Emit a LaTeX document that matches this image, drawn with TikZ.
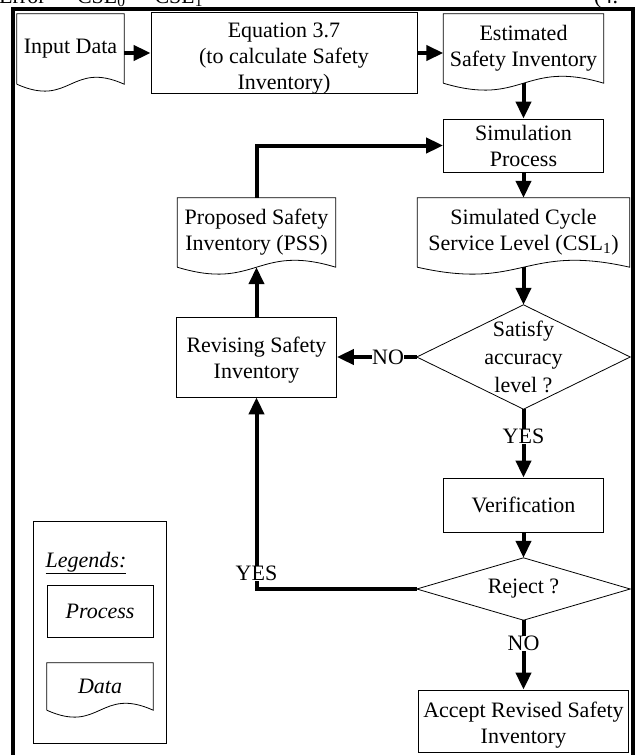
\documentclass[tikz,border=0pt]{standalone}
\usepackage{fontspec}
\setmainfont{Liberation Serif}
\usetikzlibrary{arrows.meta,calc}
\begin{document}
\begin{tikzpicture}[x=1pt,y=-1pt,
  every node/.style={font=\fontsize{22}{26}\selectfont},
  outline/.style={line width=0.8pt},
  box/.style={draw,outline,align=center,inner sep=0pt},
  doc/.style={align=center,inner sep=0pt},
  ask/.style={align=center,inner sep=0pt,font=\fontsize{22}{28}\selectfont},
  flow/.style={line width=4pt,-{Triangle[length=17pt,width=15pt]}},
  lbl/.style={fill=white,inner sep=0pt}]
\useasboundingbox (0,0) rectangle (636,755);
\clip (0,0) rectangle (636,755);
\draw[line width=4pt] (13,9) rectangle (633,780);
\node[anchor=base west,inner sep=0pt] (err) at (-1,3) {Error\hspace{9pt}=\hspace{10pt}CSL\textsubscript{0}\hspace{9pt}--\hspace{9pt}CSL\textsubscript{1}};
\node[anchor=base west,inner sep=0pt] (eqno) at (594,3) {(4.};
\node[doc,minimum width=107pt,minimum height=70pt] (inp) at (70.5,49) {Input Data};
\node[box,minimum width=266pt,minimum height=78pt] (eqn) at (284,53) {\rule{0pt}{25pt}Equation 3.7\\(to calculate Safety\\Inventory)};
\node[doc,minimum width=160pt,minimum height=69pt] (est) at (523.5,48.5) {Estimated\\Safety Inventory};
\node[box,minimum width=160pt,minimum height=53pt] (sim) at (523.5,145.5) {Simulation\\Process};
\node[doc,minimum width=212pt,minimum height=69pt] (cyc) at (523.5,232.5) {Simulated Cycle\\Service Level (CSL\textsubscript{1})};
\node[doc,minimum width=158pt,minimum height=69pt] (pss) at (256.5,232.5) {Proposed Safety\\Inventory (PSS)};
\node[ask,minimum width=213pt,minimum height=104pt] (sat) at (523.5,357) {Satisfy\\accuracy\\level ?};
\node[box,minimum width=160pt,minimum height=80pt] (rev) at (256.5,357) {\rule{0pt}{21pt}Revising Safety\\Inventory};
\node[box,minimum width=160pt,minimum height=54pt] (ver) at (523.5,505) {Verification};
\node[ask,minimum width=213pt,minimum height=62pt] (rej) at (523.5,589) {Reject ?};
\node[box,minimum width=210pt,minimum height=62pt] (acc) at (523.5,721) {\rule{0pt}{23pt}Accept Revised Safety\\Inventory};
\node[box,minimum width=133pt,minimum height=222pt] (leg) at (99.5,632) {};
\node (legtitle) at (86,563) {\underline{\textit{Legends:}}};
\node[box,minimum width=106pt,minimum height=52pt] (legproc) at (100,611) {\textit{Process}};
\node[doc,minimum width=106pt,minimum height=47pt] (legdata) at (100,686.5) {\textit{Data}};
\foreach \n in {sat,rej} {
  \draw[outline] (\n.north) -- (\n.east) -- (\n.south) -- (\n.west) -- cycle;
}
\foreach \n in {inp,est,cyc,pss,legdata} {
  \draw[outline] (\n.south west) -- (\n.north west) -- (\n.north east) -- (\n.south east)
    .. controls ($(\n.south)+(0,-24)$) and ($(\n.south)+(0,24)$) .. (\n.south west);
}
\draw[flow] (inp.east |- eqn.west) -- (eqn.west);
\draw[flow] (eqn.east) -- (est.west |- eqn.east);
\draw[flow] (est.south) -- (sim.north);
\draw[flow] (sim.south) -- (cyc.north);
\draw[flow] (cyc.south) -- (sat.north);
\draw[flow] (sat.west) -- node[lbl,pos=0.36] {NO} (rev.east);
\draw[flow] (rev.north) -- (pss.south);
\draw[flow] (pss.north) |- (sim.west);
\draw[flow] (sat.south) -- node[lbl,pos=0.4] {YES} (ver.north);
\draw[flow] (ver.south) -- (rej.north);
\draw[flow] (rej.west) -| node[lbl,pos=0.54] {YES} (rev.south);
\draw[flow] (rej.south) -- node[lbl,pos=0.33] {NO} (acc.north);
\end{tikzpicture}
\end{document}
